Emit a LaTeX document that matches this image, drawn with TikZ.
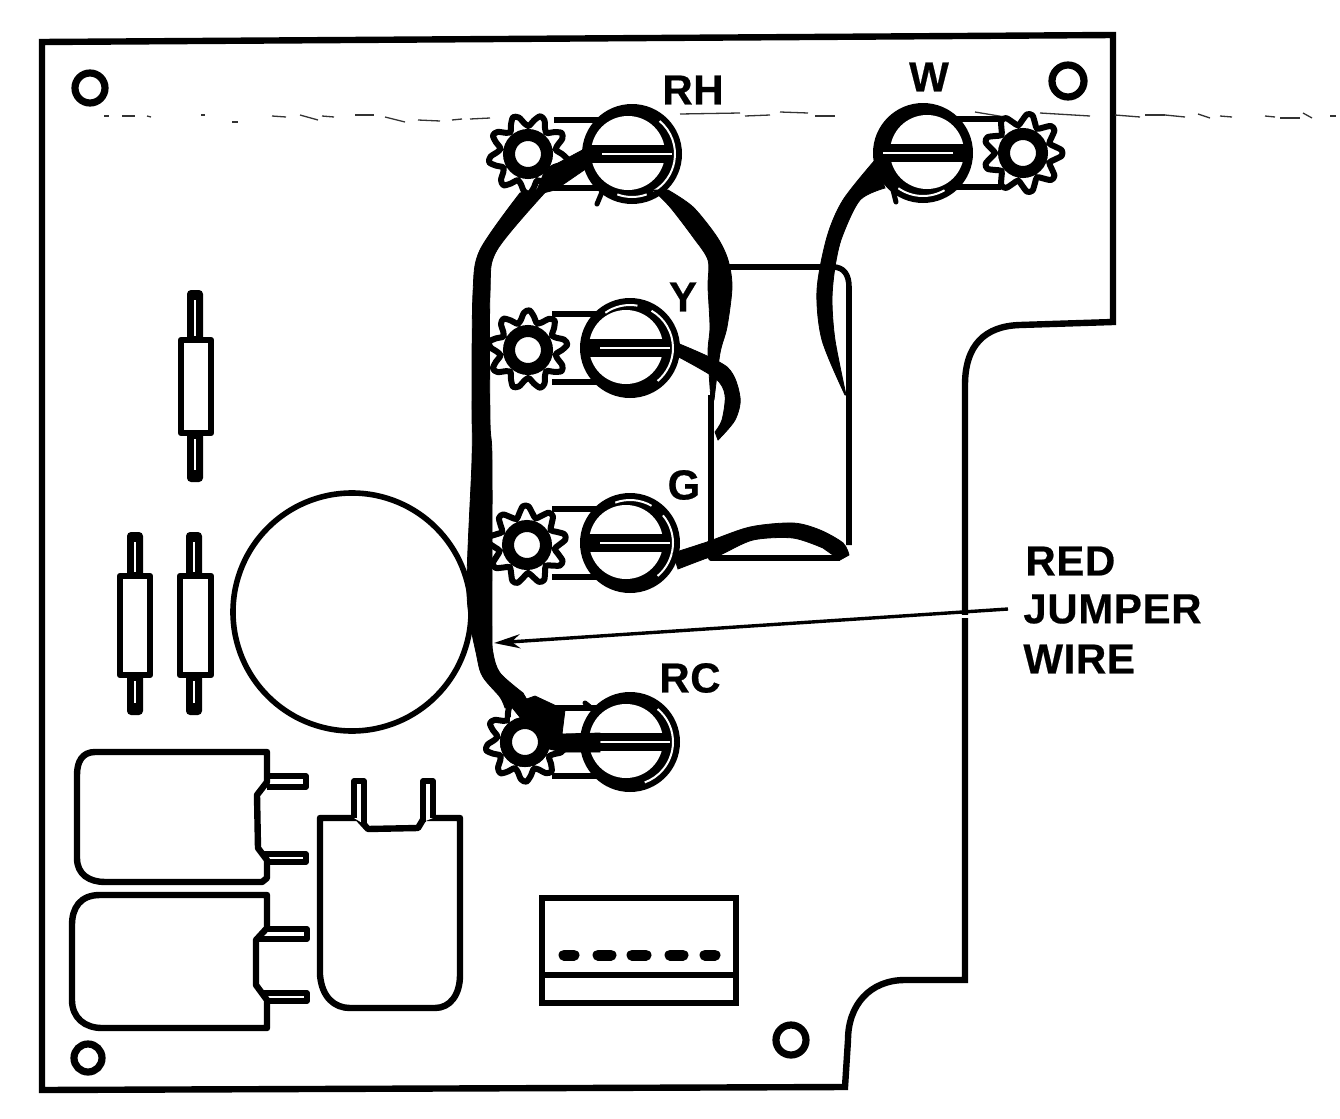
\documentclass[tikz,border=0pt]{standalone}
\usepackage{fontspec}
\setmainfont{Liberation Sans}
\newfontfamily\labfont[BoldFont={Liberation Sans Bold},BoldFeatures={FakeBold=0.5,LetterSpace=1.5}]{Liberation Sans}
\usetikzlibrary{arrows.meta}
\tikzset{
  board/.style={line width=3.2pt,line join=miter},
  part/.style={line width=3.2pt,line join=round,fill=white},
  thinpart/.style={line width=2.8pt,line join=round},
  label/.style={font=\fontsize{21}{21}\labfont\bfseries,inner sep=0pt,anchor=center},
  holemark/.style={line width=3.6pt,fill=white},
  scanline/.style={line width=.65pt,black!80},
  wire/.style={fill=black,draw=black,line width=.4pt}
}
\newcommand{\terminal}[6]{%
 \begin{scope}[shift={(#1,#2)},xscale=#3]
  \draw[thinpart] (-78,-34) -- (-30,-34);
  \draw[thinpart] (-78,34) -- (-30,34);
  \begin{scope}[shift={(#4,#5)}]
   \draw[line width=3pt,fill=white,line join=round] plot[smooth cycle,domain=0:352,samples=45] ({(34+6*cos(9*\x+#6))*cos(\x)},{(34+6*cos(9*\x+#6))*sin(\x)});
   \foreach \a in {0,40,...,320}{\fill[black] ({\a+20-#6/9}:24) -- ({\a+11-#6/9}:30) -- ({\a+29-#6/9}:30) -- cycle;}
   \draw[line width=6pt,fill=white] (0,0) circle[radius=19];
  \end{scope}
  \fill[black] (0,0) circle[radius=50];
  \fill[white] (-4,-1) circle[radius=37];
  \fill[black] (-42,-9) rectangle (47,9);
  \draw[white,line width=1.1pt] (-30,0) -- (40,0);
 \end{scope}}
\newcommand{\sliver}[5]{\draw[white,line width=1pt] ([shift={(#3:#5)}]#1,#2) arc[start angle=#3,end angle=#4,radius=#5];}
% body x1 y1 x2 y2, lead centre, lead top, lead bottom
\newcommand{\resistor}[7]{%
  \fill[black,rounded corners=2pt] ({#5-8},#6) rectangle ({#5+8},{#2+3});
  \fill[black,rounded corners=2pt] ({#5-8},{#4-3}) rectangle ({#5+8},#7);
  \draw[white,line width=1pt] (#5,{#6+10}) -- (#5,{#2-4});
  \draw[white,line width=1pt] (#5,{#4+6}) -- (#5,{#7-12});
  \draw[part] (#1,#2) rectangle (#3,#4);}
\begin{document}
\begin{tikzpicture}[x=.5pt,y=-.5pt]
\useasboundingbox (0,0) rectangle (1340,1119);
\fill[white] (0,0) rectangle (1340,1119);
% board
\draw[board] (42,42) -- (1113,35) -- (1113,322) -- (1020,325) .. controls (985,326) and (965,345) .. (965,385) -- (965,980) -- (905,980) .. controls (870,980) and (848,1005) .. (848,1040) -- (845,1087) -- (42,1090) -- cycle;
\fill[white] (958,615) rectangle (972,618);
% scan line fragments
\foreach \a/\b/\c/\d in {104/109/116/116,122/135/116/116,147/151/116/117,201/205/115/115,232/238/122/122,272/286/116/117,300/318/115/120,322/334/116/117,355/374/115/115,385/405/117/122,418/440/120/121,452/462/120/119,470/490/119/118,640/660/118/117,680/740/114/113,745/770/116/115,780/808/112/113,815/835/116/116,975/1005/112/117,1040/1090/113/116,1115/1140/115/117,1145/1165/115/115,1165/1185/115/117,1198/1210/114/118,1220/1232/116/117,1265/1275/116/117,1280/1300/118/118,1303/1312/113/118,1330/1336/116/116}{\draw[scanline] (\a,\c) -- (\b,\d);}
% holes
\draw[holemark] (90,88) circle[radius=15];
\draw[holemark] (1068,81) circle[radius=16];
\draw[holemark] (88,1058) circle[radius=14];
\draw[holemark] (791,1040) circle[radius=15];
% big circle
\draw[line width=2.8pt] (352,612) circle[radius=119];
% resistors
\resistor{181}{340}{211}{433}{195}{290}{482}
\resistor{120}{576}{150}{675}{135}{532}{715}
\resistor{180}{576}{211}{675}{194}{532}{715}
% capacitors
\draw[part] (267,752) -- (95,752) .. controls (82,752) and (77,762) .. (77,775) -- (77,858) .. controls (77,875) and (90,882) .. (105,882) -- (262,882) -- (267,878) -- (267,860) -- (258,848) -- (257,795) -- (267,782) -- cycle;
\draw[thinpart] (267,776) -- (306,776) -- (306,787) -- (267,787);
\draw[thinpart] (262,854) -- (306,854) -- (306,862) -- (265,862);
\draw[part] (267,895) -- (100,895) .. controls (80,895) and (72,908) .. (72,925) -- (72,1000) .. controls (72,1018) and (85,1028) .. (102,1028) -- (267,1028) -- (267,1000) -- (256,985) -- (256,940) -- (267,928) -- cycle;
\draw[thinpart] (265,929) -- (307,929) -- (307,939) -- (258,939);
\draw[thinpart] (262,993) -- (307,993) -- (307,1001) -- (265,1001);
\draw[part] (320,818) -- (320,975) .. controls (322,998) and (335,1008) .. (350,1008) -- (435,1008) .. controls (450,1008) and (460,995) .. (460,975) -- (460,818) -- (424,818) -- (418,828) -- (368,829) -- (358,818) -- cycle;
\draw[line width=2.8pt,fill=white,line join=round] (354,818) -- (354,781) -- (364,781) -- (364,824);
\draw[line width=2.8pt,fill=white,line join=round] (423,822) -- (423,781) -- (433,781) -- (433,818);
% connector
\draw[line width=3.4pt] (542,898) rectangle (736,1003);
\draw[line width=3.4pt] (542,975) -- (736,975);
\foreach \a/\b in {560/578,594/615,628/650,666/687,701/719}{\draw[line width=5.5pt,line cap=round] ({\a+4},955) -- ({\b-4},955);}
% relay box
\draw[thinpart] (725,267) -- (833,267) .. controls (844,267) and (849,275) .. (849,287) -- (849,545);
\draw[thinpart] (711,395) -- (711,558) -- (840,558);
% terminals
\terminal{632}{154}{1}{-104}{0}{270}
\terminal{630}{348}{1}{-102}{2}{90}
\terminal{630}{543}{1}{-103}{2}{110}
\terminal{630}{742}{1}{-105}{0}{270}
\terminal{923}{153}{-1}{-100}{0}{180}
\sliver{632}{154}{-50}{60}{43}
\sliver{630}{348}{-60}{50}{43}
\sliver{630}{543}{-40}{50}{43}
\sliver{630}{742}{-50}{70}{43}
\sliver{923}{153}{60}{125}{43}
\sliver{632}{154}{70}{110}{43}
\sliver{630}{348}{235}{280}{43}
\sliver{630}{543}{250}{300}{43}
% screw nubs
\draw[line width=2.5pt,line cap=round] (602,192) -- (597,204);
\draw[line width=2.5pt,line cap=round] (893,190) -- (896,202);
\draw[line width=2.5pt,line cap=round] (590,707) -- (585,703);
% wires
\fill[wire] plot[smooth] coordinates {(520,193) (480,250) (473,293) (472,400) (472,460) (467,593) (477,657) (483,677) (500,697) (505,708)} -- (530,705) -- plot[smooth] coordinates {(523,693) (500,673) (493,653) (492,627) (492,460) (490,420) (490,293) (497,250) (550,187)} -- cycle;
\fill[wire] (535,195) -- (545,170) -- (590,146) -- (590,166) -- (555,190) -- cycle;
\fill[wire] (510,705) -- (535,696) -- (565,710) -- (562,734) -- (600,733) -- (600,752) -- (562,752) -- (545,748) -- cycle;
\fill[white] (510,730) -- (510,717) -- (518,724) -- cycle;
\draw[line width=6pt,fill=white] (525,742) circle[radius=19];
\fill[wire] plot[smooth] coordinates {(668,190) (693,207) (717,237) (728,260) (732,287) (727,327) (720,353) (714,400)} -- plot[smooth] coordinates {(711,400) (708,353) (710,327) (708,287) (708,260) (693,237) (670,207) (653,190)} -- cycle;
\fill[wire] plot[smooth] coordinates {(677,343) (727,367) (740,397) (735,420) (718,440)} -- plot[smooth] coordinates {(715,432) (722,420) (725,395) (715,378) (675,355)} -- cycle;
\fill[wire] plot[smooth] coordinates {(673,553) (707,542) (750,527) (793,523) (820,530) (843,543) (849,555)} -- (840,560) -- plot[smooth] coordinates {(823,548) (793,538) (753,540) (720,555) (707,558) (678,569)} -- cycle;
\fill[wire] plot[smooth] coordinates {(875,160) (843,200) (827,237) (817,290) (822,340) (845,395)} -- plot[smooth] coordinates {(846,395) (835,340) (832,300) (835,267) (842,237) (860,200) (885,188)} -- cycle;
% labels
\node[label] (rh) at (693,90) {RH};
\node[label] (w) at (929,77) {W};
\node[label] (y) at (683,297) {Y};
\node[label] (g) at (684,485) {G};
\node[label] (rc) at (690,678) {RC};
\node[label,anchor=west] (red) at (1025,561) {RED};
\node[label,anchor=west] (jumper) at (1023,609) {JUMPER};
\node[label,anchor=west] (wire) at (1023,659) {WIRE};
\coordinate (arrowfrom) at (1008,609);
\coordinate (arrowto) at (494,643);
\draw[line width=1.7pt,-{Stealth[length=13pt,width=7pt,open,fill=white]}] (arrowfrom) -- (arrowto);
\end{tikzpicture}
\end{document}
